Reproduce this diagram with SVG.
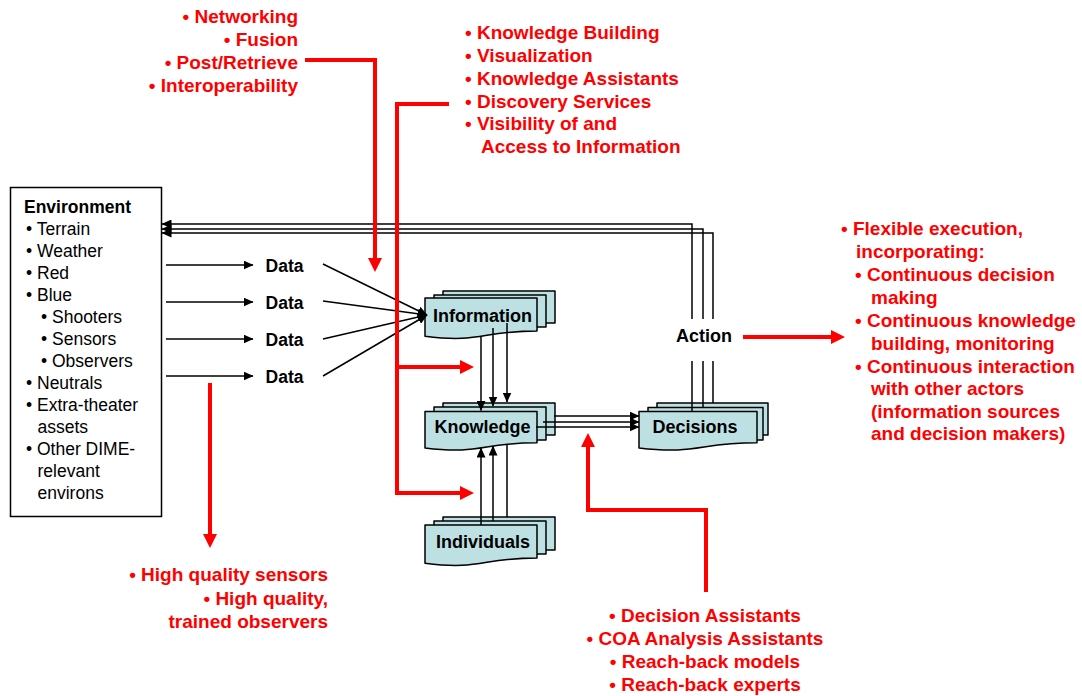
<svg xmlns="http://www.w3.org/2000/svg" width="1082" height="696" viewBox="0 0 1082 696">
<style>
text { font-family: "Liberation Sans", Arial, sans-serif; }
.red { fill:#ff0000; font-size:19px; font-weight:bold; }
.lbl { fill:#000; font-size:18px; font-weight:bold; text-anchor:middle; }
.data { fill:#000; font-size:17.5px; font-weight:bold; text-anchor:middle; }
.env { fill:#000; font-size:17.5px; }
.doc { fill:#bde0e2; stroke:#000; stroke-width:1.5; stroke-linejoin:round; }
.blk { fill:none; stroke:#000; stroke-width:1.5; }
.rl { fill:none; stroke:#ff0000; stroke-width:4; }
</style>
<defs>
<marker id="ab" markerUnits="userSpaceOnUse" viewBox="0 0 10 9" markerWidth="10" markerHeight="9" refX="9.5" refY="4.5" orient="auto"><path d="M0,0 L10,4.5 L0,9 z" fill="#000"/></marker>
<marker id="ar" markerUnits="userSpaceOnUse" viewBox="0 0 14 14" markerWidth="14" markerHeight="14" refX="4" refY="7" orient="auto"><path d="M0,0 L14,7 L0,14 z" fill="#ff0000"/></marker>
</defs>
<rect width="1082" height="696" fill="#fff"/>

<g id="environment">
<rect x="10.5" y="187.5" width="151" height="329" fill="#fff" stroke="#000" stroke-width="1.5"/>
<text class="env" x="24" y="213" font-weight="bold">Environment</text>
<text class="env" x="26" y="235">• Terrain</text>
<text class="env" x="26" y="257">• Weather</text>
<text class="env" x="26" y="279">• Red</text>
<text class="env" x="26" y="301">• Blue</text>
<text class="env" x="41" y="323">• Shooters</text>
<text class="env" x="41" y="345">• Sensors</text>
<text class="env" x="41" y="367">• Observers</text>
<text class="env" x="26" y="389">• Neutrals</text>
<text class="env" x="26" y="411">• Extra-theater</text>
<text class="env" x="37.5" y="433">assets</text>
<text class="env" x="26" y="455">• Other DIME-</text>
<text class="env" x="37.5" y="477">relevant</text>
<text class="env" x="37.5" y="499">environs</text>
</g>

<g id="information">
<path class="doc" d="M443,291 H555 V323 H443 Z"/>
<path class="doc" d="M434,295 H546 V327 H434 Z"/>
<path class="doc" d="M425,298 H537 V331 C481,331 481,343.4 425,336.3 Z"/>
<text class="lbl" x="482.5" y="322">Information</text>
</g>

<g id="knowledge">
<path class="doc" d="M443,403 H555 V435 H443 Z"/>
<path class="doc" d="M434,407 H546 V440 H434 Z"/>
<path class="doc" d="M425,411.5 H537 V442.8 C481,442.8 481,454.7 425,448 Z"/>
<text class="lbl" x="482.5" y="433">Knowledge</text>
</g>

<g id="individuals">
<path class="doc" d="M443,517 H555 V550 H443 Z"/>
<path class="doc" d="M434,521 H546 V554 H434 Z"/>
<path class="doc" d="M425,525 H537 V558 C481,558 481,570.4 425,563.3 Z"/>
<text class="lbl" x="483" y="548">Individuals</text>
</g>

<g id="decisions">
<path class="doc" d="M657,403 H768 V435 H657 Z"/>
<path class="doc" d="M648,407.5 H763 V440 H648 Z"/>
<path class="doc" d="M639,411.5 H757 V442.8 C698,442.8 698,454.7 639,448 Z"/>
<text class="lbl" x="695" y="433">Decisions</text>
</g>

<g id="connectors">
<path class="blk" d="M166,265 H253" marker-end="url(#ab)"/>
<path class="blk" d="M166,302 H253" marker-end="url(#ab)"/>
<path class="blk" d="M166,339 H253" marker-end="url(#ab)"/>
<path class="blk" d="M166,376 H253" marker-end="url(#ab)"/>
<path class="blk" d="M323,264 L427,315" marker-end="url(#ab)"/>
<path class="blk" d="M323,301 L427,315" marker-end="url(#ab)"/>
<path class="blk" d="M323,339 L427,315" marker-end="url(#ab)"/>
<path class="blk" d="M323,376 L427,315" marker-end="url(#ab)"/>
<path class="blk" d="M481,336 V410.5" marker-end="url(#ab)"/>
<path class="blk" d="M493,328 V406" marker-end="url(#ab)"/>
<path class="blk" d="M507,323 V402" marker-end="url(#ab)"/>
<path class="blk" d="M481,525 V448" marker-end="url(#ab)"/>
<path class="blk" d="M493,521 V446" marker-end="url(#ab)"/>
<path class="blk" d="M507,517 V444"/>
<path class="blk" d="M554,416 H639" marker-end="url(#ab)"/>
<path class="blk" d="M543,422 H639" marker-end="url(#ab)"/>
<path class="blk" d="M536,427 H639" marker-end="url(#ab)"/>
<path class="blk" d="M692,412 V224 H162" marker-end="url(#ab)"/>
<path class="blk" d="M703,408 V229 H162" marker-end="url(#ab)"/>
<path class="blk" d="M713,403 V233 H162" marker-end="url(#ab)"/>
<path class="rl" d="M305,60 H375 V262" marker-end="url(#ar)"/>
<path class="rl" d="M449,104 H397 V493 H464" marker-end="url(#ar)"/>
<path class="rl" d="M397,367 H464" marker-end="url(#ar)"/>
<path class="rl" d="M210,383 V538" marker-end="url(#ar)"/>
<path class="rl" d="M706,592 V510 H588 V443" marker-end="url(#ar)"/>
<path class="rl" d="M743,337 H835" marker-end="url(#ar)"/>
</g>

<g id="data-labels">
<text class="data" x="284.5" y="271.5">Data</text>
<text class="data" x="284.5" y="308.5">Data</text>
<text class="data" x="284.5" y="345.5">Data</text>
<text class="data" x="284.5" y="382.5">Data</text>
</g>

<g id="action">
<rect x="668" y="319" width="72" height="42" fill="#fff"/>
<text class="lbl" x="704" y="342">Action</text>
</g>

<g id="notes-top-left" text-anchor="end">
<text class="red" x="298" y="23">• Networking</text>
<text class="red" x="298" y="46">• Fusion</text>
<text class="red" x="298" y="69">• Post/Retrieve</text>
<text class="red" x="298" y="92">• Interoperability</text>
</g>

<g id="notes-top">
<text class="red" x="465" y="39">• Knowledge Building</text>
<text class="red" x="465" y="62">• Visualization</text>
<text class="red" x="465" y="84.5">• Knowledge Assistants</text>
<text class="red" x="465" y="107.5">• Discovery Services</text>
<text class="red" x="465" y="130">• Visibility of and</text>
<text class="red" x="481" y="153">Access to Information</text>
</g>

<g id="notes-right">
<text class="red" x="841" y="235">• Flexible execution,</text>
<text class="red" x="856" y="258">incorporating:</text>
<text class="red" x="855" y="281">• Continuous decision</text>
<text class="red" x="871" y="304">making</text>
<text class="red" x="855" y="327">• Continuous knowledge</text>
<text class="red" x="871" y="350">building, monitoring</text>
<text class="red" x="855" y="373">• Continuous interaction</text>
<text class="red" x="871" y="395">with other actors</text>
<text class="red" x="871" y="418">(information sources</text>
<text class="red" x="871" y="440">and decision makers)</text>
</g>

<g id="notes-bottom-left" text-anchor="end">
<text class="red" x="328" y="581">• High quality sensors</text>
<text class="red" x="328" y="605">• High quality,</text>
<text class="red" x="328" y="628">trained observers</text>
</g>

<g id="notes-bottom" text-anchor="middle">
<text class="red" x="705" y="622">• Decision Assistants</text>
<text class="red" x="705" y="645">• COA Analysis Assistants</text>
<text class="red" x="705" y="668">• Reach-back models</text>
<text class="red" x="705" y="691">• Reach-back experts</text>
</g>
</svg>
